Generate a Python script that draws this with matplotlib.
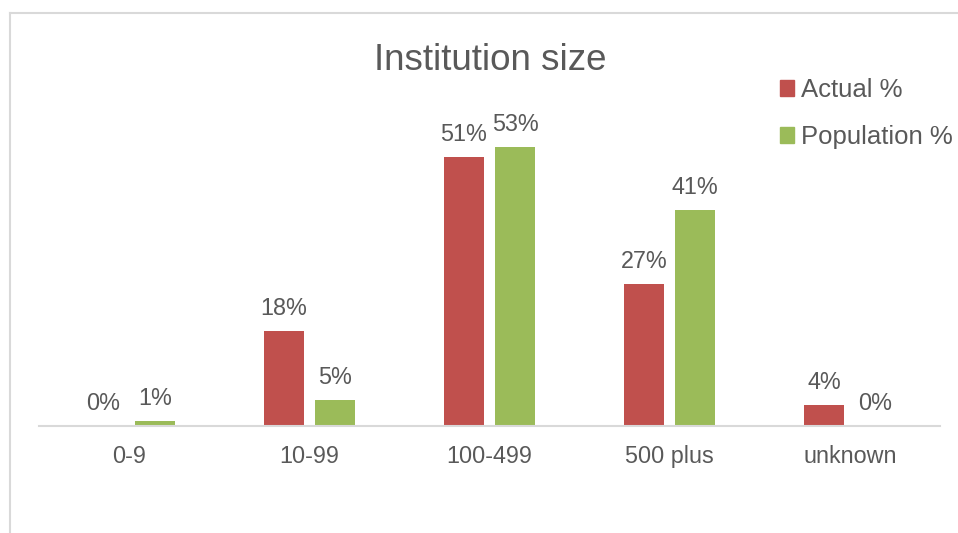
import matplotlib.pyplot as plt
import numpy as np
from matplotlib.lines import Line2D
from matplotlib.patches import Patch

plt.rcParams["font.family"] = ["Liberation Sans", "DejaVu Sans"]

categories = ["0-9", "10-99", "100-499", "500 plus", "unknown"]
actual_pct = [0, 18, 51, 27, 4]
population_pct = [1, 5, 53, 41, 0]

RED = "#C0504D"
GREEN = "#9BBB59"
TEXT = "#595959"
GRID = "#D9D9D9"

fig = plt.figure(figsize=(9.58, 5.33), dpi=100)
ax = fig.add_axes([39 / 958, 1 - 426 / 533, 901 / 958, 316 / 533])

x = np.arange(len(categories))
width = 0.222
offset = 0.142
bars_a = ax.bar(x - offset, actual_pct, width, color=RED)
bars_p = ax.bar(x + offset, population_pct, width, color=GREEN)

# value labels above each bar
for bars, values in [(bars_a, actual_pct), (bars_p, population_pct)]:
    for bar, v in zip(bars, values):
        ax.annotate(f"{v}%", (bar.get_x() + bar.get_width() / 2, v),
                    xytext=(0, 11.5), textcoords="offset points",
                    ha="center", va="baseline", fontsize=16.8, color=TEXT)

ax.set_xlim(-0.5, len(categories) - 0.5)
ax.set_ylim(0, 60)
ax.set_xticks(x)
ax.set_xticklabels(categories, fontsize=16.8, color=TEXT)
ax.tick_params(axis="x", length=0, pad=13.5)
ax.set_yticks([])
for side in ["top", "left", "right"]:
    ax.spines[side].set_visible(False)
ax.spines["bottom"].set_color(GRID)
ax.spines["bottom"].set_linewidth(1.5)

fig.text(490 / 958, 1 - 60 / 533, "Institution size", ha="center", va="center",
         fontsize=26.5, color=TEXT)

handles = [Patch(color=RED, label="Actual %"), Patch(color=GREEN, label="Population %")]
fig.legend(handles=handles, loc="upper left", bbox_to_anchor=(757 / 958, 1 - 55 / 533),
           frameon=False, fontsize=18.5, handlelength=0.55, handleheight=0.55,
           handletextpad=0.25, labelspacing=0.9, labelcolor=TEXT)

# outer chart border, only top and left edges fall inside the frame
fig.add_artist(Line2D([10 / 958, 1], [1 - 13 / 533] * 2, color=GRID, lw=1.5))
fig.add_artist(Line2D([10 / 958] * 2, [0, 1 - 13 / 533], color=GRID, lw=1.5))

fig.savefig("out.png", dpi=100)
